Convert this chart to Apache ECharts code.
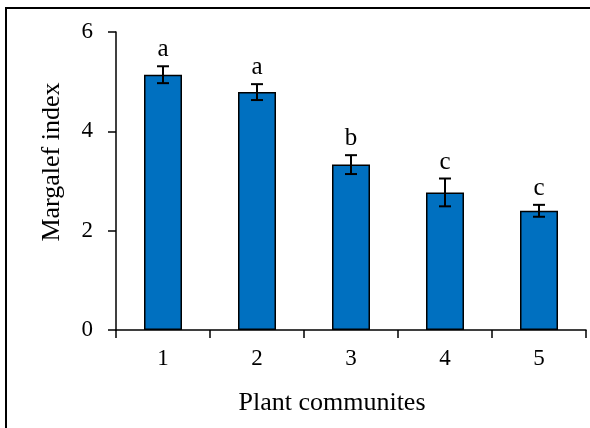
<!DOCTYPE html>
<html><head><meta charset="utf-8">
<script src="https://cdn.jsdelivr.net/npm/echarts@6/dist/echarts.min.js"></script>
<style>html,body{margin:0;padding:0;background:#fff}#c{width:590px;height:428px}</style>
</head><body><div id="c"></div>
<script>
var categories = ['1','2','3','4','5'];
var means = [5.14, 4.79, 3.33, 2.77, 2.40];
var errors = [0.17, 0.16, 0.19, 0.28, 0.12];
var letters = ['a','a','b','c','c'];
var yTicks = [0, 2, 4, 6];

var FONT = 'Liberation Serif';
var chart = echarts.init(document.getElementById('c'), null, {renderer:'canvas'});
var errData = means.map(function(m,i){return [i, m, errors[i]];});
chart.setOption({
  animation:false,
  grid:{left:116, right:4, top:32, bottom:98},
  xAxis:{type:'category', data:categories,
    axisLine:{lineStyle:{color:'#000', width:1.5}},
    axisTick:{show:true, length:8, lineStyle:{color:'#000', width:1.5}},
    axisLabel:{color:'#000', fontFamily:FONT, fontSize:23, margin:17}
  },
  yAxis:{type:'value', min:yTicks[0], max:yTicks[yTicks.length-1], interval:2,
    axisLine:{show:true, lineStyle:{color:'#000', width:1.5}},
    axisTick:{show:true, length:8, lineStyle:{color:'#000', width:1.5}},
    splitLine:{show:false},
    axisLabel:{color:'#000', fontFamily:FONT, fontSize:23, margin:23}
  },
  graphic:[
    {type:'rect', shape:{x:6, y:8, width:620, height:460}, style:{fill:'none', stroke:'#000', lineWidth:2}, z:-1},
    {type:'text', x:332, y:403, style:{text:'Plant communites', fontFamily:FONT, fontSize:26, fill:'#000', align:'center', verticalAlign:'middle'}},
    {type:'text', x:52, y:162, rotation:Math.PI/2, style:{text:'Margalef index', fontFamily:FONT, fontSize:26, fill:'#000', align:'center', verticalAlign:'middle'}}
  ],
  series:[
    {type:'bar', data:means, barWidth:38,
     itemStyle:{color:'#0070C0', borderColor:'#000', borderWidth:1.5}},
    {type:'custom', data:errData, z:10,
     renderItem:function(params, api){
       var i = api.value(0), m = api.value(1), e = api.value(2);
       var top = api.coord([i, m+e]);
       var bot = api.coord([i, m-e]);
       var cx = top[0], hw = 6;
       return {type:'group', children:[
         {type:'line', shape:{x1:cx, y1:top[1], x2:cx, y2:bot[1]}, style:{stroke:'#000', lineWidth:2}},
         {type:'line', shape:{x1:cx-hw, y1:top[1], x2:cx+hw, y2:top[1]}, style:{stroke:'#000', lineWidth:2}},
         {type:'line', shape:{x1:cx-hw, y1:bot[1], x2:cx+hw, y2:bot[1]}, style:{stroke:'#000', lineWidth:2}},
         {type:'text', x:cx, y:top[1]-4, style:{text:letters[params.dataIndex], fontFamily:FONT, fontSize:25, fill:'#000', align:'center', verticalAlign:'bottom'}}
       ]};
     }}
  ]
});
</script></body></html>
